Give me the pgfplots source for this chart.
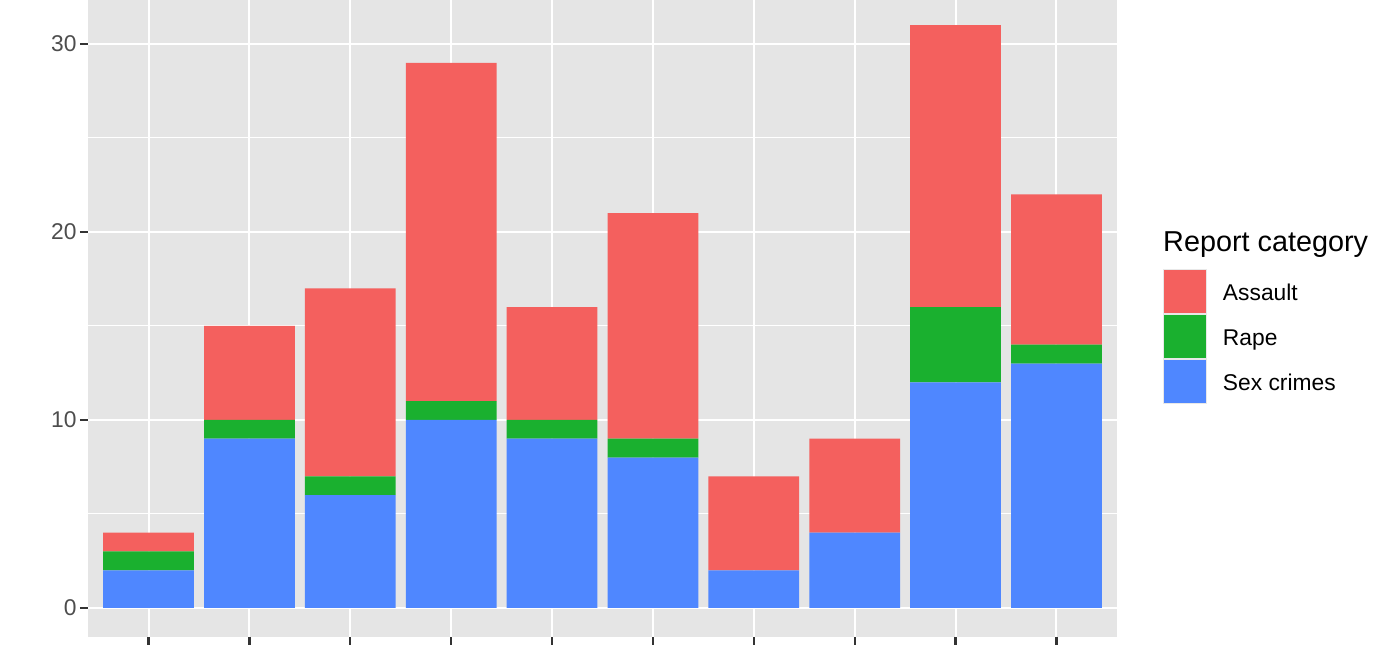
\documentclass[border=0pt]{standalone}
\usepackage{fontspec}
\setmainfont{Liberation Sans}
\usepackage{pgfplots}
\pgfplotsset{compat=1.18}
\definecolor{cAssault}{HTML}{F4605E}
\definecolor{cRape}{HTML}{1AB02F}
\definecolor{cSex}{HTML}{4F87FF}
\definecolor{panelbg}{HTML}{E5E5E5}
\definecolor{tickgray}{HTML}{333333}
\definecolor{labgray}{HTML}{4D4D4D}
\definecolor{legborder}{HTML}{E8E8E8}
\begin{document}
\begin{tikzpicture}
\useasboundingbox (0,0) rectangle (1400pt,650pt);
\begin{axis}[
  at={(88pt,13pt)}, anchor=south west,
  scale only axis, width=1029pt, height=640.9pt,
  xmin=0.4, xmax=10.6, ymin=-1.55, ymax=32.55,
  ybar stacked, bar width=0.9,
  axis background/.style={fill=panelbg},
  axis line style={draw=none},
  xtick={1,...,10}, xticklabels={},
  ytick={0,10,20,30}, minor ytick={5,15,25},
  grid=both,
  major grid style={white, line width=2pt},
  minor grid style={white, line width=1pt},
  tick align=outside, tick pos=left,
  major tick length=8pt, minor tick length=0pt,
  tick style={color=tickgray, line width=2.2pt},
  major tick style={color=tickgray, line width=2.2pt},
  yticklabel style={font=\fontsize{22.8}{27}\selectfont, color=labgray},
  /pgf/number format/assume math mode=true,
  legend style={at={(1.0447,0.5742)}, anchor=north west, draw=none, fill=none,
    inner sep=0pt, outer sep=0pt, row sep=0pt,
    font=\fontsize{22.8}{27}\selectfont,
    nodes={inner sep=0pt},
    /tikz/every odd column/.append style={column sep=16pt}},
  legend cell align=left,
  reverse legend,
  legend image code/.code={\draw[#1, draw=legborder, line width=1pt] (0.5pt,-20pt) rectangle (43.5pt,24pt);},
]
\addplot[fill=cSex, draw=none] coordinates {(1,2) (2,9) (3,6) (4,10) (5,9) (6,8) (7,2) (8,4) (9,12) (10,13)};
\addlegendentry{Sex crimes}
\addplot[fill=cRape, draw=none] coordinates {(1,1) (2,1) (3,1) (4,1) (5,1) (6,1) (7,0) (8,0) (9,4) (10,1)};
\addlegendentry{Rape}
\addplot[fill=cAssault, draw=none] coordinates {(1,1) (2,5) (3,10) (4,18) (5,6) (6,12) (7,5) (8,5) (9,15) (10,8)};
\addlegendentry{Assault}
\end{axis}
\node[anchor=base west, inner sep=0pt, font=\fontsize{28.8}{34}\selectfont] at (1163pt,398.3pt) {Report category};
\end{tikzpicture}
\end{document}
